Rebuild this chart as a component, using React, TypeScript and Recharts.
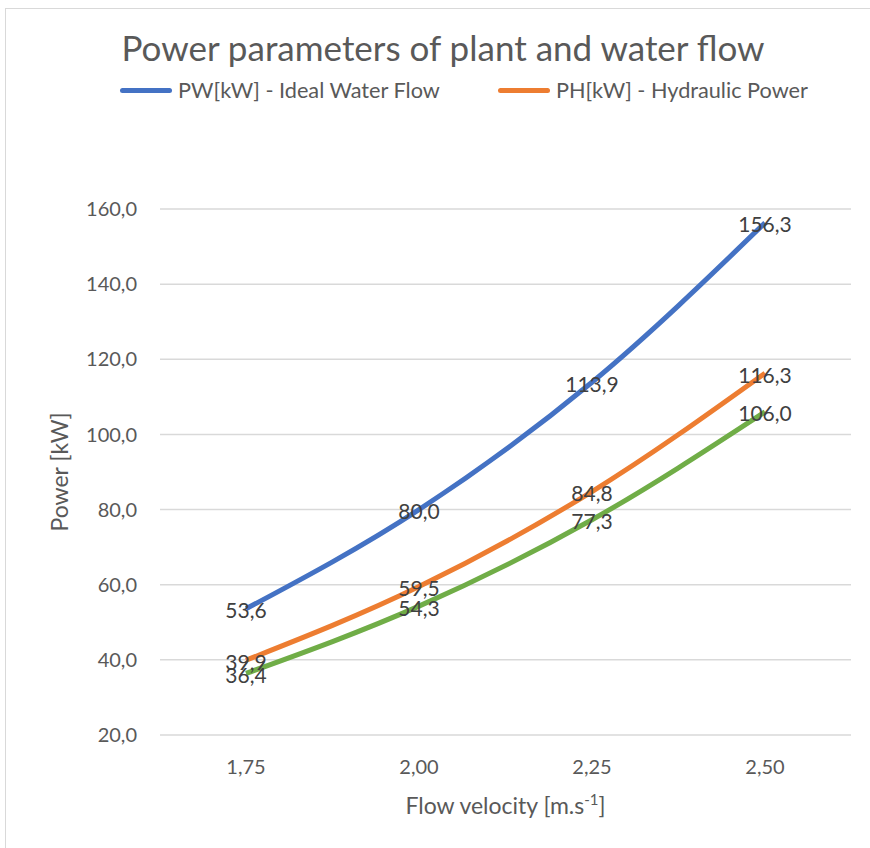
import React from 'react';
import { LineChart, Line, XAxis, YAxis, CartesianGrid, Legend, LabelList, Label } from 'recharts';

const velocities = ['1,75', '2,00', '2,25', '2,50'];
const idealWaterFlow = [53.6, 80.0, 113.9, 156.3];
const hydraulicPower = [39.9, 59.5, 84.8, 116.3];
const thirdSeries = [36.4, 54.3, 77.3, 106.0];
const yTicks = [20, 40, 60, 80, 100, 120, 140, 160];
const legendOrder = ['PW[kW] - Ideal Water Flow', 'PH[kW] - Hydraulic Power'];

const data = velocities.map((v, i) => ({
  v,
  pw: idealWaterFlow[i],
  ph: hydraulicPower[i],
  p3: thirdSeries[i],
}));

const FONT = 'Lato, "Open Sans", sans-serif';
const fmt = (n: number) => n.toFixed(1).replace('.', ',');

const PointLabel = (props: any) => {
  const { x, y, value } = props;
  return (
    <text x={x} y={y} dy={1} textAnchor="middle" dominantBaseline="central" fill="#404040" fontSize={21} fontFamily={FONT}>
      {fmt(value)}
    </text>
  );
};

const LegendContent = ({ payload }: any) => {
  const items = (payload || [])
    .filter((p: any) => p.type !== 'none')
    .sort((a: any, b: any) => legendOrder.indexOf(a.value) - legendOrder.indexOf(b.value));
  return (
    <div style={{ display: 'flex', justifyContent: 'center', gap: 58, fontFamily: FONT, fontSize: 21.7, color: '#595959' }}>
      {items.map((p: any) => (
        <div key={p.value} style={{ display: 'flex', alignItems: 'center' }}>
          <span style={{ display: 'inline-block', width: 52, height: 5, borderRadius: 3, background: p.color, marginRight: 6 }} />
          {p.value}
        </div>
      ))}
    </div>
  );
};

const XTitle = (props: any) => {
  const { viewBox } = props;
  const cx = viewBox.x + viewBox.width / 2;
  return (
    <text x={cx} y={814} textAnchor="middle" fill="#595959" fontSize={23} fontFamily={FONT}>
      Flow velocity [m.s
      <tspan fontSize={15} dy={-9}>-1</tspan>
      <tspan dy={9}>]</tspan>
    </text>
  );
};

const YTitle = (props: any) => {
  const { viewBox } = props;
  const cy = viewBox.y + viewBox.height / 2;
  return (
    <text x={68} y={cy} transform={`rotate(-90 68 ${cy})`} textAnchor="middle" fill="#595959" fontSize={23} fontFamily={FONT}>
      Power [kW]
    </text>
  );
};

export default function App() {
  return (
    <div style={{ position: 'absolute', left: 0, top: 0, width: 870, height: 848, overflow: 'hidden', background: '#fff' }}>
      <div style={{ position: 'absolute', left: 5, top: 8, width: 880, height: 860, border: '1.5px solid #d9d9d9' }} />
      <div
        style={{
          position: 'absolute',
          left: 5,
          top: 26,
          width: 876,
          textAlign: 'center',
          fontFamily: FONT,
          fontSize: 35,
          color: '#595959',
        }}
      >
        Power parameters of plant and water flow
      </div>
      <div style={{ position: 'absolute', left: 0, top: 0 }}>
        <LineChart width={870} height={848} data={data} margin={{ top: 209, right: 19, bottom: 73, left: 60 }}>
          <CartesianGrid vertical={false} stroke="#d9d9d9" strokeWidth={1.5} />
          <XAxis
            dataKey="v"
            axisLine={false}
            tickLine={false}
            tickSize={0}
            tickMargin={25}
            height={40}
            padding={{ left: 86, right: 86 }}
            tick={{ fill: '#595959', fontSize: 20, fontFamily: FONT }}
          >
            <Label content={<XTitle />} />
          </XAxis>
          <YAxis
            domain={[20, 160]}
            ticks={yTicks}
            width={100}
            axisLine={false}
            tickLine={false}
            tickSize={0}
            tickMargin={23}
            tickFormatter={fmt}
            tick={{ fill: '#595959', fontSize: 20, fontFamily: FONT }}
          >
            <Label content={<YTitle />} />
          </YAxis>
          <Legend
            layout="horizontal"
            verticalAlign="middle"
            align="center"
            content={<LegendContent />}
            wrapperStyle={{ top: 77, left: 29, width: 870 }}
          />
          <Line type="monotone" dataKey="pw" name="PW[kW] - Ideal Water Flow" stroke="#4472C4" strokeWidth={5} dot={false} isAnimationActive={false}>
            <LabelList dataKey="pw" content={<PointLabel />} />
          </Line>
          <Line type="monotone" dataKey="ph" name="PH[kW] - Hydraulic Power" stroke="#ED7D31" strokeWidth={5} dot={false} isAnimationActive={false}>
            <LabelList dataKey="ph" content={<PointLabel />} />
          </Line>
          <Line type="monotone" dataKey="p3" name="P[kW]" legendType="none" stroke="#70AD47" strokeWidth={5} dot={false} isAnimationActive={false}>
            <LabelList dataKey="p3" content={<PointLabel />} />
          </Line>
        </LineChart>
      </div>
    </div>
  );
}
